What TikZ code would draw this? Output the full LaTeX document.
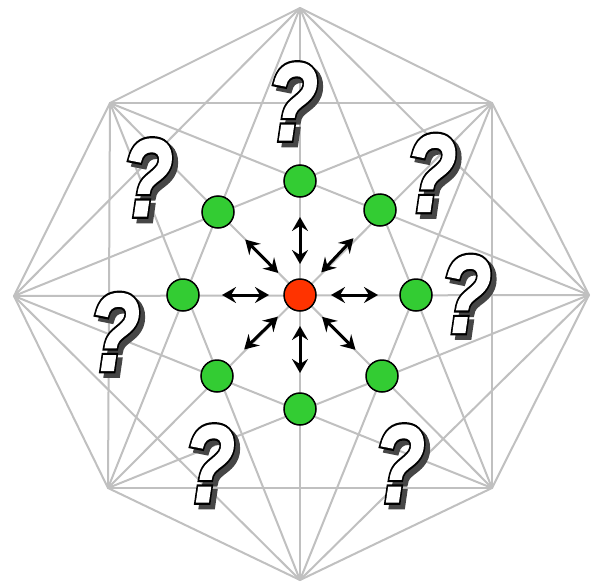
\documentclass[tikz,border=0pt]{standalone}
\usepackage{fontspec}
\usepackage{graphicx}
\usetikzlibrary{arrows.meta,calc}
\newfontfamily\qwhitefont{Liberation Sans Bold Italic}[FakeBold=1.5]
\newfontfamily\qblackfont{Liberation Sans Bold Italic}[FakeBold=5.5]
\definecolor{edgegray}{RGB}{192,192,192}
\definecolor{nodegreen}{RGB}{51,204,51}
\definecolor{nodered}{RGB}{255,51,0}
\definecolor{shadowgray}{RGB}{70,70,70}
\newcommand\qglyph{\scalebox{0.76}[1]{?}}
\begin{document}
\begin{tikzpicture}[x=1pt,y=-1pt,
  edge/.style={draw=edgegray, line width=2pt},
  greennode/.style={circle, draw=black, line width=1.5pt, fill=nodegreen, minimum size=32pt, inner sep=0pt},
  rednode/.style={circle, draw=black, line width=1.5pt, fill=nodered, minimum size=32pt, inner sep=0pt},
  dblarrow/.style={{Stealth[length=14pt,width=16pt,inset=5pt]}-{Stealth[length=14pt,width=16pt,inset=5pt]}, line width=3pt, black},
  qshadow/.style={inner sep=0pt, font=\qblackfont\fontsize{110}{110}\selectfont, text=shadowgray, xshift=4.5pt, yshift=-4.5pt},
  qblack/.style={inner sep=0pt, font=\qblackfont\fontsize{110}{110}\selectfont, text=black},
  qwhite/.style={inner sep=0pt, font=\qwhitefont\fontsize{110}{110}\selectfont, text=white}]
\useasboundingbox (0,0) rectangle (597,581);
\fill[white] (0,0) rectangle (597,581);
% octagon vertices
\coordinate (v1) at (300,8);
\coordinate (v2) at (492,103);
\coordinate (v3) at (589,295);
\coordinate (v4) at (492,488);
\coordinate (v5) at (300,580);
\coordinate (v6) at (108,488);
\coordinate (v7) at (14,296);
\coordinate (v8) at (110,103);
\foreach \i in {1,...,7}{
  \pgfmathtruncatemacro\jstart{\i+1}
  \foreach \j in {\jstart,...,8}{
    \draw[edge, line cap=round] (v\i) -- (v\j);
  }
}
% question marks
\foreach \nm/\px/\py in {qt/292.5/101.5, qul/147.5/177.5, qur/431/173, qr/466/294, ql/114.5/332, qll/209.5/463.5, qlr/399.5/463.5}{
  \node[qshadow] (\nm s) at (\px,\py) {\qglyph};
  \node[qblack] (\nm b) at (\px,\py) {\qglyph};
  \node[qwhite] (\nm) at (\px,\py) {\qglyph};
}
% nodes
\node[rednode] (c) at (300,295) {};
\node[greennode] (g1) at (300,181) {};
\node[greennode] (g2) at (380,210) {};
\node[greennode] (g3) at (416,295) {};
\node[greennode] (g4) at (382,376) {};
\node[greennode] (g5) at (300,409) {};
\node[greennode] (g6) at (217,376) {};
\node[greennode] (g7) at (183,295) {};
\node[greennode] (g8) at (218,212) {};
\foreach \k in {1,...,8}{
  \draw[dblarrow] ($(c.center)!31pt!(g\k.center)$) -- ($(c.center)!78pt!(g\k.center)$);
}
\end{tikzpicture}
\end{document}
